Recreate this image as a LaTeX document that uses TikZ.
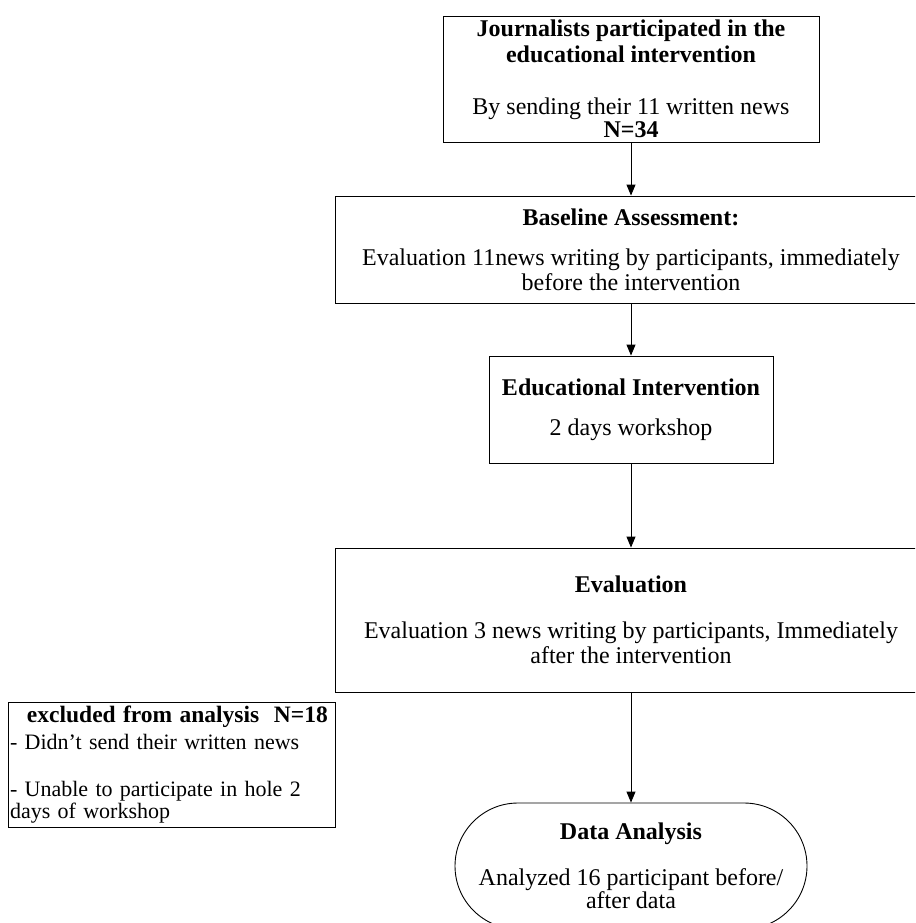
\documentclass[tikz,border=0pt]{standalone}
\usepackage{fontspec}
\setmainfont{Liberation Serif}
\usetikzlibrary{arrows.meta,shapes.misc}
\tikzset{
  txt/.style={font=\fontsize{24}{26}\selectfont},
  smalltxt/.style={font=\fontsize{22}{25}\selectfont},
  boxnode/.style={txt, draw, line width=0.9pt, align=center, inner sep=0pt},
  flowarrow/.style={line width=0.9pt, -{Triangle[width=9pt,length=11pt]}}
}
\begin{document}
\begin{tikzpicture}[x=1pt,y=-1pt]
\useasboundingbox (0,0) rectangle (915,923);
\clip (0,0) rectangle (915,923);
\fill[white] (0,0) rectangle (915,923);

\node[boxnode, minimum width=376pt, minimum height=126pt] (jour) at (631,79)
  {\textbf{Journalists participated in the}\\ \textbf{educational intervention}\\[26pt]
   By sending their 11 written news\\[-3pt] \textbf{N=34}};

\node[boxnode, minimum width=592pt, minimum height=107pt] (base) at (631,249.5)
  {\textbf{Baseline Assessment:}\\[14pt]
   Evaluation 11news writing by participants, immediately\\[-1pt] before the intervention};

\node[boxnode, minimum width=284pt, minimum height=107pt] (edu) at (631,409.5)
  {\textbf{Educational Intervention}\\[14pt] 2 days workshop};

\node[boxnode, minimum width=592pt, minimum height=144pt] (eval) at (631,620)
  {\textbf{Evaluation}\\[20pt]
   Evaluation 3 news writing by participants, Immediately\\[-1pt] after the intervention};

\node[boxnode, rounded rectangle, minimum width=352pt, minimum height=126pt] (data) at (631,866)
  {\textbf{Data Analysis}\\[20pt] Analyzed 16 participant before/\\[-3pt] after data};

\node[smalltxt, draw, line width=0.9pt, align=left, text width=323pt, inner sep=2pt,
      minimum height=125pt] (excl) at (171.5,764.5)
  {\hspace*{17pt}{\fontsize{23.5}{25}\selectfont\textbf{excluded from analysis\ \ N=18}}\\[2pt]
   - Didn’t send their written news\\[22pt]
   - Unable to participate in hole 2\\[-3pt]
   days of workshop};

\draw[flowarrow] (jour.south) -- (base.north);
\draw[flowarrow] (base.south) -- (edu.north);
\draw[flowarrow] (edu.south) -- (eval.north);
\draw[flowarrow] (eval.south) -- (data.north);
\end{tikzpicture}
\end{document}
